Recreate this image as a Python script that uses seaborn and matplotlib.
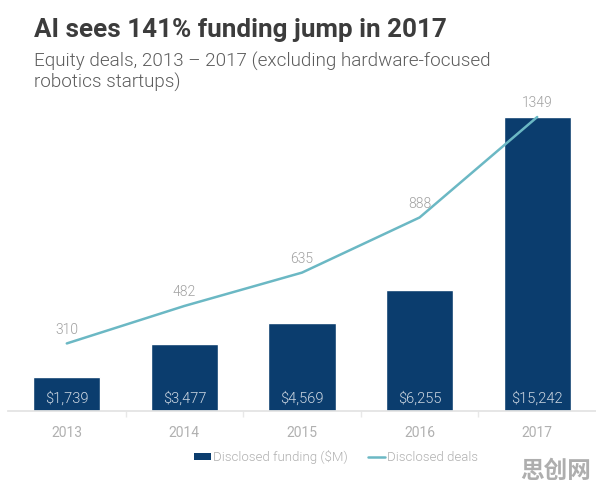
import numpy as np
import pandas as pd
import seaborn as sns
import matplotlib.pyplot as plt
from matplotlib.patches import Patch
from matplotlib.lines import Line2D

years = ["2013", "2014", "2015", "2016", "2017"]
funding = [1739, 3477, 4569, 6255, 15242]
deals = [310, 482, 635, 888, 1349]

title = "AI sees 141% funding jump in 2017"
subtitle = "Equity deals, 2013 \u2013 2017 (excluding hardware-focused\nrobotics startups)"

bar_color = "#0b3d6e"
line_color = "#6bb8c4"

sns.set_theme(style="white")
plt.rcParams["font.family"] = ["Roboto", "DejaVu Sans"]

df = pd.DataFrame({"year": years, "funding": funding, "deals": deals})

fig = plt.figure(figsize=(5.96, 4.84), dpi=100)
ax = fig.add_axes([8 / 596, 73 / 484, 588 / 596, 311 / 484])

sns.barplot(data=df, x="year", y="funding", color=bar_color, saturation=1,
            width=0.57, ax=ax)
ax.set_ylim(0, 16124)
ax.set_xlim(-0.5, 4.5)
ax.set_xlabel("")
ax.set_ylabel("")
ax.set_yticks([])
for s in ["top", "left", "right"]:
    ax.spines[s].set_visible(False)
ax.spines["bottom"].set_color("#e3e3e3")
ax.tick_params(axis="x", length=0, pad=11, labelsize=10, labelcolor="#b0b0b0")
ax.set_xticks(np.arange(0.5, 4, 1), minor=True)
ax.tick_params(axis="x", which="minor", length=4, color="#e8e8e8", bottom=True)

# dollar labels near the bottom of each bar
for i, v in enumerate(funding):
    ax.text(i, 680, f"${v:,}", ha="center", va="center", fontsize=10.5,
            fontweight=300, color="#d0d9e3")

ax2 = ax.twinx()
sns.lineplot(x=np.arange(len(years)), y=deals, color=line_color, lw=1.8,
             ax=ax2)
ax2.set_ylim(0, 1427)
ax2.set_yticks([])
ax2.set_ylabel("")
for s in ["top", "left", "right", "bottom"]:
    ax2.spines[s].set_visible(False)

for i, v in enumerate(deals):
    ax2.text(i, v + 62, str(v), ha="center", va="center",
             fontsize=10, fontweight=300, color="#a0a0a0")

fig.text(34 / 596, 1 - 37 / 484, title, ha="left", va="baseline",
         fontsize=18.7, fontweight="bold", color="#3c3c3c")
fig.text(34 / 596, 1 - 88 / 484, subtitle, ha="left", va="baseline",
         fontsize=13.6, fontweight=300, color="#5c5c5c", linespacing=1.15)

handles = [Patch(facecolor=bar_color, edgecolor="none"),
           Line2D([0], [0], color=line_color, lw=1.8)]
fig.legend(handles, ["Disclosed funding ($M)", "Disclosed deals"],
           loc="center", bbox_to_anchor=(336 / 596, 1 - 457 / 484), ncol=2,
           frameon=False, labelcolor="#b0b0b0",
           prop={"weight": 300, "size": 9.5},
           handlelength=1.3, handleheight=0.5, handletextpad=0.15,
           columnspacing=1.5)

fig.text(591 / 596, 1 - 478 / 484, "思创网", ha="right", va="baseline",
         fontsize=17, fontweight="bold", color="#9a9a9a", alpha=0.8,
         family=["Noto Sans CJK SC", "DejaVu Sans"])

fig.savefig("out.png", dpi=100)
